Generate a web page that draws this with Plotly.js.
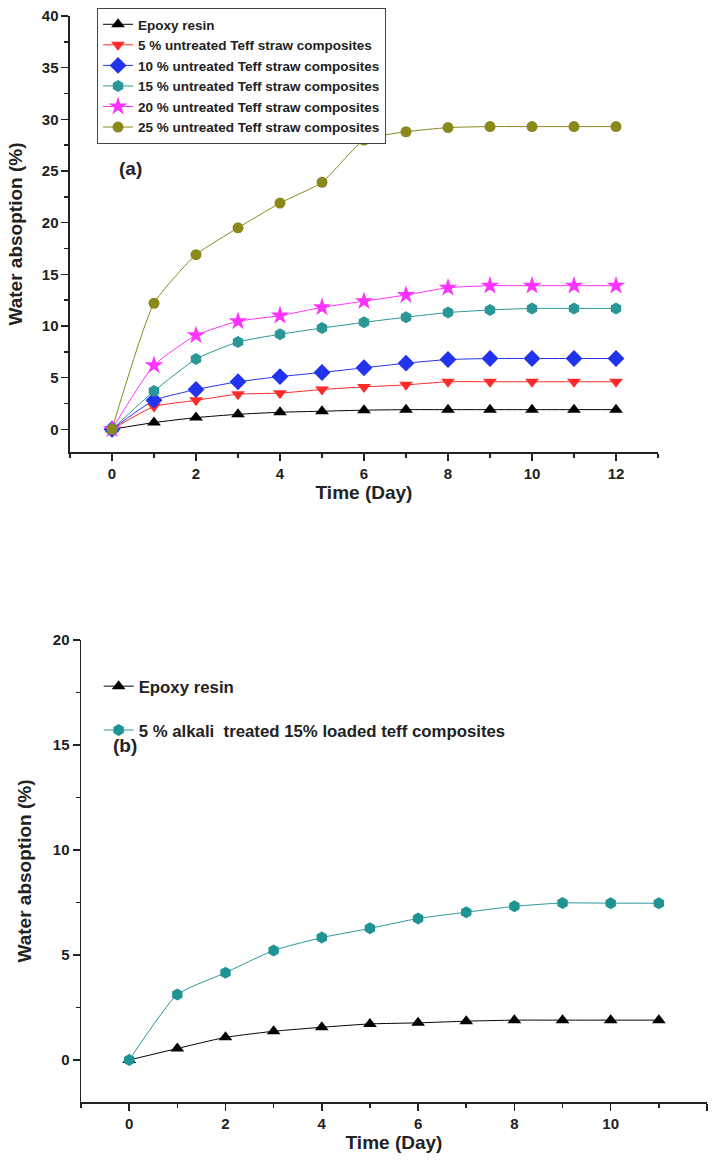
<!DOCTYPE html>
<html><head><meta charset="utf-8">
<script src="https://cdn.plot.ly/plotly-3.0.1.min.js"></script>
<style>html,body{margin:0;padding:0;background:#fff}#c{width:715px;height:1162px}</style>
</head><body><div id="c"></div>
<script>
// Panel (a)
const daysA = [0,1,2,3,4,5,6,7,8,9,10,11,12];
const epoxyA = [0,0.65,1.13,1.45,1.65,1.75,1.85,1.9,1.9,1.9,1.9,1.9,1.9];
const untreated5 = [0,2.2,2.8,3.4,3.5,3.85,4.1,4.3,4.6,4.6,4.6,4.6,4.6];
const untreated10 = [0,2.8,3.85,4.6,5.1,5.5,5.95,6.4,6.75,6.85,6.85,6.85,6.85];
const untreated15 = [0,3.7,6.8,8.45,9.2,9.8,10.35,10.85,11.3,11.55,11.7,11.7,11.7];
const untreated20 = [0,6.2,9.1,10.45,11.0,11.8,12.4,13.0,13.7,13.9,13.9,13.9,13.9];
const untreated25 = [0,12.2,16.9,19.5,21.9,23.9,28.0,28.8,29.2,29.3,29.3,29.3,29.3];
const namesA = ["Epoxy resin","5 % untreated Teff straw composites","10 % untreated Teff straw composites","15 % untreated Teff straw composites","20 % untreated Teff straw composites","25 % untreated Teff straw composites"];
// Panel (b)
const daysB = [0,1,2,3,4,5,6,7,8,9,10,11];
const epoxyB = [0,0.55,1.08,1.37,1.56,1.72,1.77,1.85,1.9,1.9,1.9,1.9];
const alkali15 = [0,3.12,4.16,5.22,5.83,6.27,6.74,7.04,7.32,7.48,7.47,7.47];
const namesB = ["Epoxy resin","5 % alkali  treated 15% loaded teff composites"];

const F = "Liberation Sans, Arial, sans-serif";
const colors = ["#000000","#ff2a2a","#2233ee","#2a9696","#ff33ff","#8a8a1c"];
const symbols = ["triangle-up","triangle-down","diamond","hexagon","star","circle"];
const sizes = [12,12,13,12,14,11];
const seriesA = [epoxyA,untreated5,untreated10,untreated15,untreated20,untreated25];

const traces = [];
seriesA.forEach((s,i)=>{
  traces.push({x:daysA,y:s,name:namesA[i],type:'scatter',mode:'lines+markers',
    xaxis:'x',yaxis:'y',legend:'legend',
    line:{color:colors[i],width:1,shape:'spline',smoothing:0.5},
    marker:{symbol:symbols[i],size:sizes[i],color:colors[i]}});
});
traces.push({x:daysB,y:epoxyB,name:namesB[0],type:'scatter',mode:'lines+markers',
  xaxis:'x2',yaxis:'y2',legend:'legend2',legendgroup:'b1',
  line:{color:'#000',width:1,shape:'spline',smoothing:0.5},
  marker:{symbol:'triangle-up',size:12,color:'#000'}});
traces.push({x:daysB,y:alkali15,name:namesB[1],type:'scatter',mode:'lines+markers',
  xaxis:'x2',yaxis:'y2',legend:'legend2',legendgroup:'b2',
  line:{color:'#2a9696',width:1,shape:'spline',smoothing:0.5},
  marker:{symbol:'hexagon',size:12,color:'#1f9494'}});

const axBase = {showgrid:false,zeroline:false,showline:true,linecolor:'#222',linewidth:1.5,
  ticks:'outside',ticklen:7,tickwidth:1.5,tickcolor:'#222',
  tickfont:{family:F,size:15,color:'#222',weight:'bold'}};
const titleFont = {family:F,size:19,color:'#222',weight:'bold'};

const layout = {
  width:715,height:1162,margin:{l:0,r:0,t:0,b:0},
  paper_bgcolor:'#fff',plot_bgcolor:'rgba(0,0,0,0)',
  xaxis:Object.assign({},axBase,{domain:[0.0979,0.9203],range:[-1,13],dtick:2,tick0:0,anchor:'y',
    minor:{ticks:'outside',ticklen:4,dtick:1,tickcolor:'#222'},
    title:{text:'Time (Day)',font:titleFont,standoff:4}}),
  yaxis:Object.assign({},axBase,{domain:[0.611,0.9862],range:[-2.2,40],dtick:5,tick0:0,anchor:'x',
    minor:{ticks:'outside',ticklen:4,dtick:2.5,tickcolor:'#222'},
    title:{text:'Water absoption (%)',font:titleFont,standoff:14}}),
  xaxis2:Object.assign({},axBase,{domain:[0.1133,0.9888],range:[-1,12],dtick:2,tick0:0,anchor:'y2',
    minor:{ticks:'outside',ticklen:4,dtick:1,tickcolor:'#222'},
    title:{text:'Time (Day)',font:titleFont,standoff:4}}),
  yaxis2:Object.assign({},axBase,{domain:[0.0516,0.4492],range:[-2,20],dtick:5,tick0:0,anchor:'x2',
    minor:{ticks:'outside',ticklen:4,dtick:2.5,tickcolor:'#222'},
    title:{text:'Water absoption (%)',font:titleFont,standoff:16}}),
  legend:{x:0.1357,y:0.9931,xanchor:'left',yanchor:'top',bgcolor:'#fff',
    bordercolor:'#444',borderwidth:1,font:{family:F,size:13.5,color:'#222',weight:'bold'},
    tracegroupgap:0,itemclick:false},
  legend2:{x:0.138,y:0.4245,xanchor:'left',yanchor:'top',bgcolor:'rgba(0,0,0,0)',
    borderwidth:0,font:{family:F,size:16.8,color:'#222',weight:'bold'},
    traceorder:'grouped',tracegroupgap:19},
  annotations:[
    {text:'(a)',xref:'paper',yref:'paper',x:130/715,y:1-168/1162,showarrow:false,xanchor:'center',yanchor:'middle',
      font:{family:F,size:19,color:'#222',weight:'bold'}},
    {text:'(b)',xref:'paper',yref:'paper',x:125/715,y:1-745/1162,showarrow:false,xanchor:'center',yanchor:'middle',
      font:{family:F,size:19,color:'#222',weight:'bold'}}
  ]
};
Plotly.newPlot('c',traces,layout,{displayModeBar:false,staticPlot:true});
</script></body></html>
